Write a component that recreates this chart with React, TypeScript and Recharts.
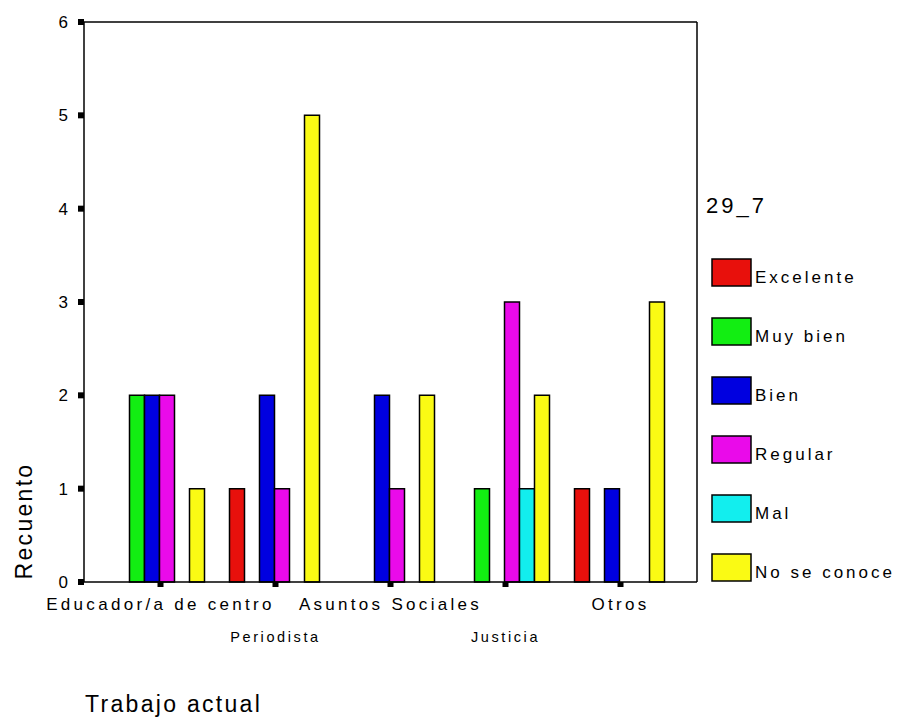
import React from "react";
import { BarChart, Bar, XAxis, YAxis } from "recharts";

const categories = [
  "Educador/a de centro",
  "Periodista",
  "Asuntos Sociales",
  "Justicia",
  "Otros",
];

const excelente = [0, 1, 0, 0, 1];
const muyBien = [2, 0, 0, 1, 0];
const bien = [2, 2, 2, 0, 1];
const regular = [2, 1, 1, 3, 0];
const mal = [0, 0, 0, 1, 0];
const noSeConoce = [1, 5, 2, 2, 3];

const yTicks = [0, 1, 2, 3, 4, 5, 6];

const series = [
  { key: "Excelente", values: excelente, color: "#e8100c" },
  { key: "Muy bien", values: muyBien, color: "#12ee12" },
  { key: "Bien", values: bien, color: "#0000e0" },
  { key: "Regular", values: regular, color: "#ea0aea" },
  { key: "Mal", values: mal, color: "#12eeee" },
  { key: "No se conoce", values: noSeConoce, color: "#fafa14" },
];

const data = categories.map((name, i) => {
  const row: any = { name };
  series.forEach((s) => {
    row[s.key] = s.values[i];
  });
  return row;
});

const FONT = "'Liberation Sans', Arial, sans-serif";

const XTick = (props: any) => {
  const { x, y, payload, index } = props;
  const second = index % 2 === 1;
  return (
    <g>
      <rect x={x - 3} y={y} width={6} height={5} fill="#000" />
      <text
        x={x}
        y={second ? y + 60 : y + 28}
        textAnchor="middle"
        fontFamily={FONT}
        fontSize={second ? 14.5 : 17}
        letterSpacing={second ? 2.6 : 3.3}
        fill="#000"
      >
        {payload.value}
      </text>
    </g>
  );
};

const YTick = (props: any) => {
  const { x, y, payload } = props;
  return (
    <g>
      <rect x={x - 6} y={y - 3} width={6} height={6} fill="#000" />
      <text
        x={x - 16}
        y={y + 6}
        textAnchor="end"
        fontFamily={FONT}
        fontSize={17}
        fill="#000"
      >
        {payload.value}
      </text>
    </g>
  );
};

// legend drawn next to the plot, same order as the series
const LegendBox = () => (
  <svg
    width={208}
    height={420}
    style={{ position: "absolute", left: 700, top: 180, display: "block" }}
  >
    <text x={6} y={33} fontFamily={FONT} fontSize={22} letterSpacing={3} fill="#000">
      29_7
    </text>
    {series.map((s, i) => (
      <g key={s.key}>
        <rect
          x={12}
          y={79 + 59 * i}
          width={39}
          height={27}
          fill={s.color}
          stroke="#000"
          strokeWidth={1.5}
        />
        <text
          x={55}
          y={103 + 59 * i}
          fontFamily={FONT}
          fontSize={17}
          letterSpacing={3}
          fill="#000"
        >
          {s.key}
        </text>
      </g>
    ))}
  </svg>
);

export default function App() {
  return (
    <div style={{ position: "absolute", left: 0, top: 0, width: 908, height: 722, background: "#fff" }}>
      <BarChart
        width={908}
        height={722}
        data={data}
        margin={{ top: 21, right: 210, bottom: 0, left: 0 }}
        barCategoryGap="10%"
        barGap={0}
      >
        <XAxis
          dataKey="name"
          height={140}
          padding={{ left: 19, right: 19 }}
          axisLine={{ stroke: "#000", strokeWidth: 1.5 }}
          tickLine={false}
          tickSize={0}
          tickMargin={0}
          interval={0}
          tick={<XTick />}
          label={{
            content: () => (
              <text x={85} y={712} fontFamily={FONT} fontSize={23} letterSpacing={2.3} fill="#000">
                Trabajo actual
              </text>
            ),
          }}
        />
        <XAxis
          xAxisId="top"
          dataKey="name"
          orientation="top"
          height={1}
          tick={false}
          tickLine={false}
          axisLine={{ stroke: "#000", strokeWidth: 1.5 }}
        />
        <YAxis
          width={84}
          domain={[0, 6]}
          ticks={yTicks}
          interval={0}
          axisLine={{ stroke: "#000", strokeWidth: 1.5 }}
          tickLine={false}
          tickSize={0}
          tickMargin={0}
          tick={<YTick />}
          label={{
            content: () => (
              <text
                x={24}
                y={521}
                transform="rotate(-90 24 521)"
                textAnchor="middle"
                dominantBaseline="central"
                fontFamily={FONT}
                fontSize={23}
                letterSpacing={2.3}
                fill="#000"
              >
                Recuento
              </text>
            ),
          }}
        />
        <YAxis
          yAxisId="right"
          orientation="right"
          width={1}
          domain={[0, 6]}
          tick={false}
          tickLine={false}
          axisLine={{ stroke: "#000", strokeWidth: 1.5 }}
        />
        {series.map((s) => (
          <Bar
            key={s.key}
            dataKey={s.key}
            fill={s.color}
            stroke="#000"
            strokeWidth={1.5}
            isAnimationActive={false}
          />
        ))}
      </BarChart>
      <LegendBox />
    </div>
  );
}
